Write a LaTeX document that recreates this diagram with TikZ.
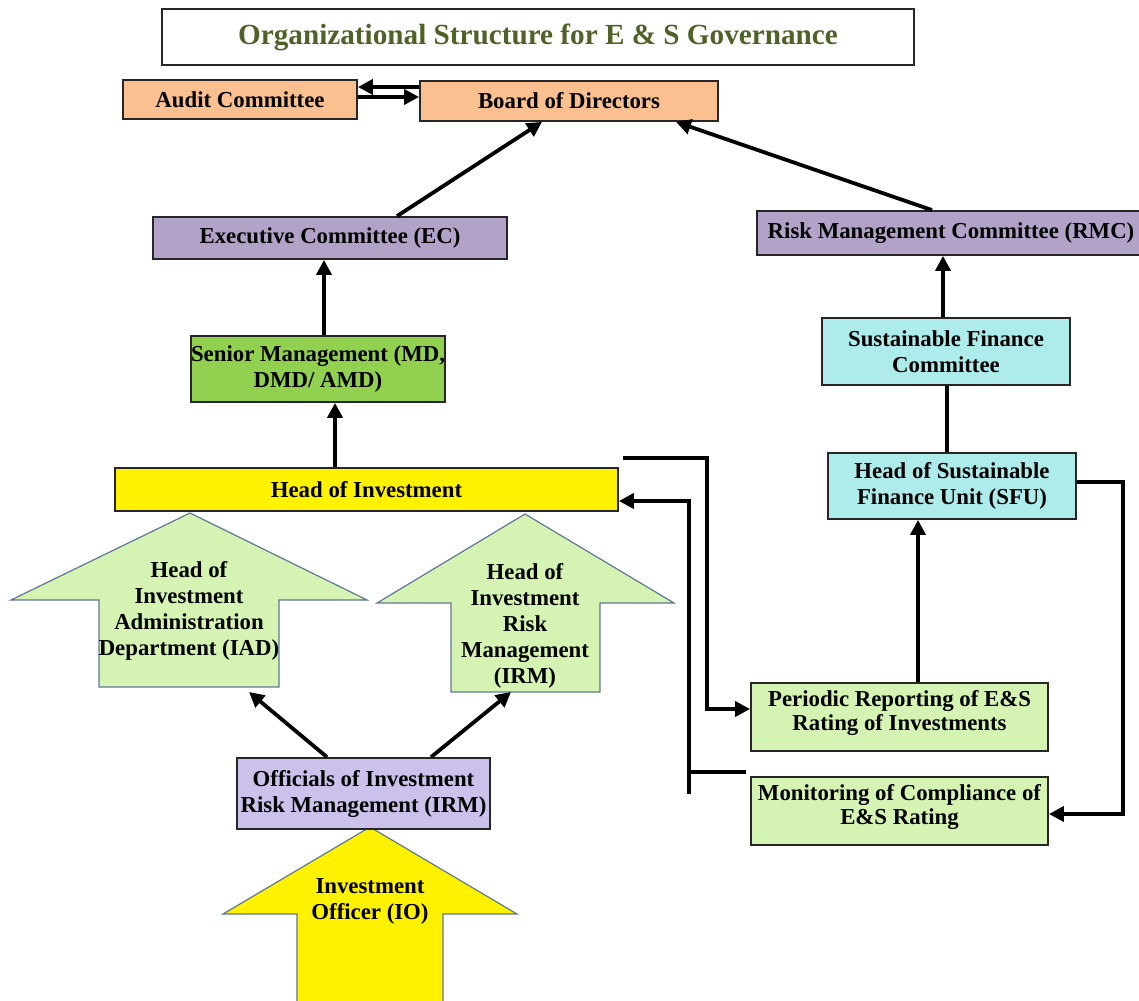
\documentclass[tikz,border=0pt]{standalone}
\usepackage{fontspec}
\setmainfont{Liberation Serif}
\usepackage{tikz}
\usetikzlibrary{calc, arrows.meta, positioning}
\definecolor{peach}{HTML}{FAC090}
\definecolor{lilac}{HTML}{B3A2C7}
\definecolor{lavender}{HTML}{CCC1EA}
\definecolor{grassgreen}{HTML}{92D050}
\definecolor{palegreen}{HTML}{D5F4B3}
\definecolor{paleaqua}{HTML}{AEEBEB}
\definecolor{titlegreen}{HTML}{4F6228}
\definecolor{arrowedge}{HTML}{5E7896}
\tikzset{
    boxnode/.style = {draw=black!85, rectangle, line width=0.9pt, inner sep=0em, align=center,
      font=\fontsize{11.4}{13}\selectfont\bfseries},
    textnode/.style = {draw=none, fill=none, rectangle, inner sep=0em, align=center,
      font=\fontsize{11.4}{13}\selectfont\bfseries},
    blockarrow/.style = {draw=arrowedge, line width=0.6pt, line join=miter},
    connect/.style = {black, line width=1.9pt, -{Triangle[length=7.5pt,width=7.5pt]}},
    plainline/.style = {black, line width=1.9pt}
}
\begin{document}
\begin{tikzpicture}[x=0.5pt, y=-0.5pt]
    \useasboundingbox (0,0) rectangle (1139,1000);

    % big block arrows (behind the boxes)
    \draw [blockarrow, fill=palegreen] (190,513) -- (367,600) -- (279,600) -- (279,687) coordinate (iadfoot)
        -- (99,687) -- (99,600) -- (11,600) -- cycle;
    \draw [blockarrow, fill=palegreen] (525,514) -- (674,603) -- (600,603) -- (600,692)
        -- (451,692) coordinate (irmfoot) -- (451,603) -- (377,603) -- cycle;
    \draw [blockarrow, fill=yellow] (370,827) -- (517,914) -- (443,914) -- (443,1004)
        -- (297,1004) -- (297,914) -- (223,914) -- cycle;
    \node [name=iad, textnode] at (189,611) {Head of\\Investment\\Administration\\Department (IAD)};
    \node [name=irm, textnode] at (525,626) {Head of\\Investment\\Risk\\Management\\(IRM)};
    \node [name=io, textnode] at (370,901) {Investment\\Officer (IO)};

    % boxes
    \node [name=title, boxnode, minimum width=376pt, minimum height=28pt, line width=1.1pt,
        font=\fontsize{14.6}{16}\selectfont\bfseries, text=titlegreen] at (538,37)
        {Organizational Structure for E \& S Governance};

    \node [name=audit, boxnode, fill=peach, minimum width=117pt, minimum height=19.5pt]
        at (240,99.5) {Audit Committee};
    \node [name=board, boxnode, fill=peach, minimum width=149pt, minimum height=20pt]
        at (569,101) {Board of Directors};

    \node [name=ec, boxnode, fill=lilac, minimum width=177pt, minimum height=21pt]
        at (330,238) {Executive Committee (EC)};
    \node [name=rmc, boxnode, fill=lilac, minimum width=194pt, minimum height=22pt]
        at (951,233) {Risk Management Committee (RMC)};

    \node [name=sm, boxnode, fill=grassgreen, minimum width=124pt, minimum height=33pt]
        at (318,369) {Senior Management (MD,\\DMD/ AMD)};
    \node [name=hoi, boxnode, fill=yellow, minimum width=251.5pt, minimum height=21.5pt]
        at (366.5,489.5) {Head of Investment};

    \node [name=sfc, boxnode, fill=paleaqua, minimum width=124pt, minimum height=33.5pt]
        at (946,351.5) {Sustainable Finance\\Committee};
    \node [name=sfu, boxnode, fill=paleaqua, minimum width=124pt, minimum height=33pt]
        at (952,486) {Head of Sustainable\\Finance Unit (SFU)};

    \node [name=per, boxnode, fill=palegreen, minimum width=148.5pt, minimum height=34pt,
        font=\fontsize{11.4}{12}\selectfont\bfseries, text depth=7pt]
        at (899.5,717) {Periodic Reporting of E\&S\\Rating of Investments};
    \node [name=mon, boxnode, fill=palegreen, minimum width=148.5pt, minimum height=34pt,
        font=\fontsize{11.4}{12}\selectfont\bfseries, text depth=7pt]
        at (899.5,811) {Monitoring of Compliance of\\E\&S Rating};

    \node [name=off, boxnode, fill=lavender, minimum width=126.5pt, minimum height=35.5pt]
        at (363.5,793.5) {Officials of Investment\\Risk Management (IRM)};

    % connectors
    \draw [connect] ([yshift=7pt]board.west) -- ([yshift=7pt]board.west -| audit.east);
    \draw [connect] ([yshift=2pt]board.west -| audit.east) -- ([yshift=2pt]board.west);

    \draw [connect] ([xshift=33.5pt]ec.north) -- ([xshift=-13.5pt]board.south);
    \draw [connect] ([xshift=-9.5pt]rmc.north) -- ([xshift=53.5pt]board.south);

    \draw [connect] ([xshift=3pt]sm.north) -- ([xshift=3pt]sm.north |- ec.south);
    \draw [connect] ([xshift=-15.75pt]hoi.north) -- ([xshift=-15.75pt]hoi.north |- sm.south);

    \draw [connect] ([xshift=-1.5pt]sfc.north) -- ([xshift=-1.5pt]sfc.north |- rmc.south);
    \draw [plainline] ([xshift=-2.5pt]sfu.north) -- ([xshift=-2.5pt]sfu.north |- sfc.south);
    \draw [connect] ([xshift=9.25pt]per.north) -- ([xshift=9.25pt]per.north |- sfu.south);
    \draw [connect] ([yshift=2pt]sfu.east) -- ++(46,0) |- ([yshift=-1.5pt]mon.east);

    \coordinate (hoiout) at ([xshift=2pt,yshift=4.5pt]hoi.north east);
    \draw [connect] (hoiout) -| ([xshift=-21.5pt,yshift=4pt]per.west) -- ([yshift=4pt]per.west);

    \coordinate (monout) at ([xshift=-2pt,yshift=2pt]mon.north west);
    \draw [plainline] (monout) -- ++(-57,0) coordinate (monbend);
    \draw [connect] ([yshift=-11pt]monbend) |- ([yshift=-5.75pt]hoi.east);

    \draw [connect] ([xshift=-18.25pt]off.north) -- ($(iadfoot)+(-30,5)$);
    \draw [connect] ([xshift=33.75pt]off.north) -- ($(irmfoot)+(60,0)$);
\end{tikzpicture}
\end{document}
